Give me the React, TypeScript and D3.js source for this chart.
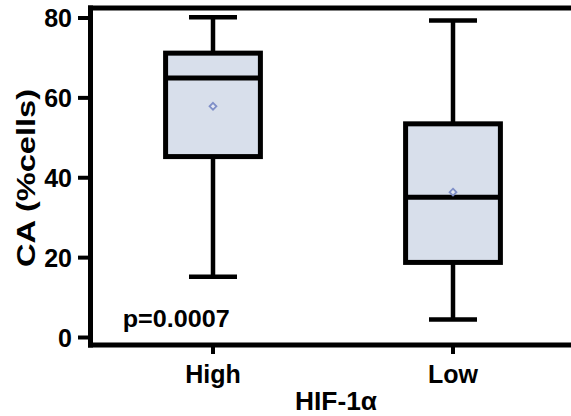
import React from "react";
import * as d3 from "d3";

const categories = ["High", "Low"];
const whiskerMax = [80.2, 79.4];
const q3 = [71.2, 53.5];
const median = [65.0, 35.1];
const q1 = [45.3, 18.8];
const whiskerMin = [15.2, 4.5];
const means = [57.9, 36.4];
const yTicks = [0, 20, 40, 60, 80];
const pText = "p=0.0007";
const xTitle = "HIF-1α";
const yTitle = "CA (%cells)";

const W = 571;
const H = 416;
const FONT = "'Liberation Sans', Arial, Helvetica, sans-serif";

export default function App() {
  const y = d3.scaleLinear().domain([0, 80]).range([337.5, 18]);
  const x = d3.scalePoint<string>().domain(categories).range([93, 573]).padding(0.5);
  const boxW = x.step() * 0.395;
  const capW = 48;
  const axisX = 90.5;
  const axisBottom = 345;
  const frameTop = 8;
  const sw = 5;

  const data = categories.map((c, i) => ({
    c,
    hi: whiskerMax[i],
    q3: q3[i],
    med: median[i],
    q1: q1[i],
    lo: whiskerMin[i],
    mean: means[i],
  }));

  const diamond = d3.symbol().type(d3.symbolDiamond2).size(30)();

  return (
    <svg
      width={W}
      height={H}
      style={{ position: "absolute", left: 0, top: 0, background: "#fff" }}
      fontFamily={FONT}
      fontWeight="bold"
    >
      {data.map((d) => {
        const cx = x(d.c)!;
        return (
          <g key={d.c}>
            <line x1={cx} x2={cx} y1={y(d.hi)} y2={y(d.q3)} stroke="#000" strokeWidth={4.5} />
            <line x1={cx} x2={cx} y1={y(d.q1)} y2={y(d.lo)} stroke="#000" strokeWidth={4.5} />
            <line x1={cx - capW / 2} x2={cx + capW / 2} y1={y(d.hi)} y2={y(d.hi)} stroke="#000" strokeWidth={4.5} />
            <line x1={cx - capW / 2} x2={cx + capW / 2} y1={y(d.lo)} y2={y(d.lo)} stroke="#000" strokeWidth={4.5} />
            <rect
              x={cx - boxW / 2}
              y={y(d.q3)}
              width={boxW}
              height={y(d.q1) - y(d.q3)}
              fill="#d8dfeb"
              stroke="#000"
              strokeWidth={sw}
            />
            <line x1={cx - boxW / 2} x2={cx + boxW / 2} y1={y(d.med)} y2={y(d.med)} stroke="#000" strokeWidth={sw} />
            <path
              d={diamond!}
              transform={`translate(${cx},${y(d.mean)})`}
              fill="#e4e8f2"
              stroke="#7f8fc8"
              strokeWidth={1.8}
            />
          </g>
        );
      })}

      <line x1={axisX - 2.5} x2={W} y1={frameTop} y2={frameTop} stroke="#000" strokeWidth={5} />
      <line x1={axisX - 2.5} x2={W} y1={axisBottom} y2={axisBottom} stroke="#000" strokeWidth={5} />
      <line x1={axisX} x2={axisX} y1={frameTop - 2.5} y2={axisBottom + 2.5} stroke="#000" strokeWidth={5} />

      {yTicks.map((t) => (
        <g key={t}>
          <line x1={78} x2={axisX} y1={y(t)} y2={y(t)} stroke="#000" strokeWidth={4} />
          <text x={72} y={y(t)} dy="0.36em" textAnchor="end" fontSize={25} fill="#000">
            {t}
          </text>
        </g>
      ))}

      {categories.map((c) => (
        <g key={c}>
          <line x1={x(c)!} x2={x(c)!} y1={axisBottom} y2={354} stroke="#000" strokeWidth={4} />
          <text x={x(c)!} y={383} textAnchor="middle" fontSize={25} fill="#000">
            {c}
          </text>
        </g>
      ))}

      <text x={336} y={410} textAnchor="middle" fontSize={25} fill="#000" textLength={82} lengthAdjust="spacingAndGlyphs">
        {xTitle}
      </text>

      <text
        transform={`translate(35,178) rotate(-90)`}
        textAnchor="middle"
        fontSize={26}
        fill="#000"
        textLength={178}
        lengthAdjust="spacingAndGlyphs"
      >
        {yTitle}
      </text>

      <text x={122.7} y={326.7} fontSize={24} fill="#000" textLength={107} lengthAdjust="spacingAndGlyphs">
        {pText}
      </text>
    </svg>
  );
}
